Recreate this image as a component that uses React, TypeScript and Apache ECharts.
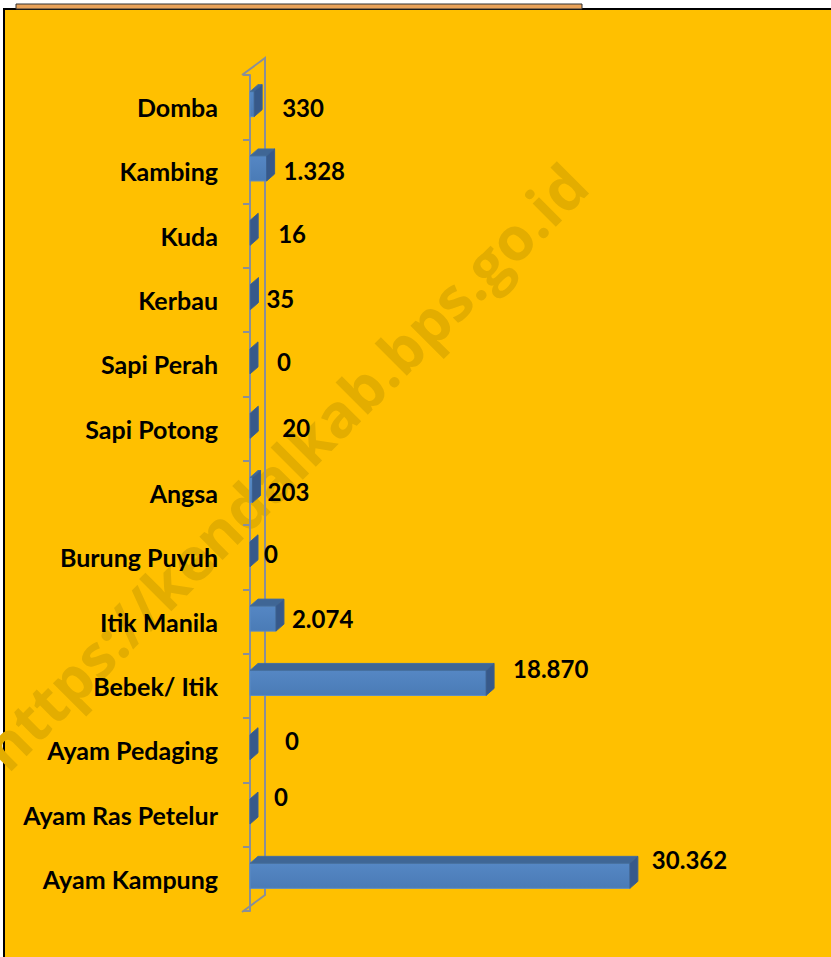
import React, { useEffect, useRef } from "react";
import * as echarts from "echarts";

const categories = [
  "Domba", "Kambing", "Kuda", "Kerbau", "Sapi Perah", "Sapi Potong", "Angsa",
  "Burung Puyuh", "Itik Manila", "Bebek/ Itik", "Ayam Pedaging", "Ayam Ras Petelur", "Ayam Kampung",
];
const values = [330, 1328, 16, 35, 0, 20, 203, 0, 2074, 18870, 0, 0, 30362];
const valueLabels = ["330", "1.328", "16", "35", "0", "20", "203", "0", "2.074", "18.870", "0", "0", "30.362"];
// label nudges (style only): horizontal gap after the bar and vertical shift
const labelGap = [20, 9, 20, 8, 19, 24, 7, 6, 8, 19, 27, 16, 14];
const labelShift = [0, -1, -2, -2, -3, -1, -2, -4, -3, -17, -10, -18, -19];

const GRID_LEFT = 250;
const GRID_TOP = 75;
const GRID_H = 836;
const GRID_W = 563;
const FONT = "Lato";

export default function App() {
  const ref = useRef<HTMLDivElement>(null);
  useEffect(() => {
    if (!ref.current) return;
    const chart = echarts.init(ref.current, undefined, { renderer: "svg" });
    const dx = 8, dy = -7, h = 25;
    const option: any = {
      animation: false,
      backgroundColor: "#ffffff",
      grid: { left: GRID_LEFT, top: GRID_TOP, width: GRID_W, height: GRID_H },
      xAxis: { type: "value", min: 0, max: 45000, show: false },
      yAxis: {
        type: "category",
        inverse: true,
        data: categories,
        offset: 8,
        axisLine: { show: true, lineStyle: { color: "#8a8f98", width: 2 } },
        axisTick: { show: true, length: 7, lineStyle: { color: "#8a8f98", width: 2 } },
        axisLabel: {
          margin: 24,
          color: "#000",
          fontFamily: FONT,
          fontWeight: "bold",
          fontSize: 25,
        },
        z: 3,
      },
      graphic: [
        { type: "rect", shape: { x: 4, y: 9, width: 840, height: 960 }, style: { fill: "#FFC000", stroke: "#000", lineWidth: 2 }, z: -10 },
        { type: "rect", shape: { x: 16, y: 4, width: 566, height: 5 }, style: { fill: "#E8A25A", stroke: "#333", lineWidth: 1 }, z: -9 },
        {
          type: "text", x: 284, y: 466, rotation: Math.PI / 4,
          style: { text: "https://kendalkab.bps.go.id", fill: "#E3AD00", font: "bold 60px 'Open Sans'", align: "center", verticalAlign: "middle" },
          z: -5,
        },
        {
          type: "polyline",
          shape: { points: [[242, 75], [265, 58], [265, 895], [242, 912]] },
          style: { stroke: "#8a8f98", lineWidth: 2, fill: "none" },
          z: 2,
        },
      ],
      series: [
        {
          type: "custom",
          data: values.map((v, i) => [v, i]),
          encode: { x: 0, y: 1 },
          z: 5,
          renderItem: (params: any, api: any) => {
            const v = api.value(0);
            const c = api.value(1);
            const p0 = api.coord([0, c]);
            const p1 = api.coord([v, c]);
            const cy = p0[1] - 3;
            const x0 = p0[0], x1 = p1[0];
            const yt = cy - h / 2, yb = cy + h / 2;
            const children: any[] = [];
            if (x1 - x0 > 0.5) {
              children.push({
                type: "rect",
                shape: { x: x0, y: yt, width: x1 - x0, height: h },
                style: {
                  fill: new echarts.graphic.LinearGradient(0, 0, 0, 1, [
                    { offset: 0, color: "#5587C4" },
                    { offset: 1, color: "#4A7BB6" },
                  ]),
                  stroke: "#5A8BC6", lineWidth: 1,
                },
              });
              children.push({
                type: "polygon",
                shape: { points: [[x0, yt], [x0 + dx, yt + dy], [x1 + dx, yt + dy], [x1, yt]] },
                style: { fill: "#3F6695", stroke: "#46709F", lineWidth: 1 },
              });
            }
            children.push({
              type: "polygon",
              shape: { points: [[x1, yt], [x1 + dx, yt + dy], [x1 + dx, yb + dy], [x1, yb]] },
              style: { fill: "#37598A", stroke: "#3C6090", lineWidth: 1 },
            });
            const idx = params.dataIndex;
            children.push({
              type: "text",
              x: x1 + dx + labelGap[idx],
              y: p0[1] + labelShift[idx],
              style: {
                text: valueLabels[idx],
                fill: "#000",
                font: `bold 24px ${FONT}`,
                align: "left",
                verticalAlign: "middle",
              },
            });
            return { type: "group", children };
          },
        },
      ],
    };
    chart.setOption(option);
    return () => chart.dispose();
  }, []);
  return (
    <div style={{ position: "fixed", left: 0, top: 0, width: 831, height: 957, background: "#fff" }}>
      <div ref={ref} style={{ width: 831, height: 957 }} />
    </div>
  );
}
